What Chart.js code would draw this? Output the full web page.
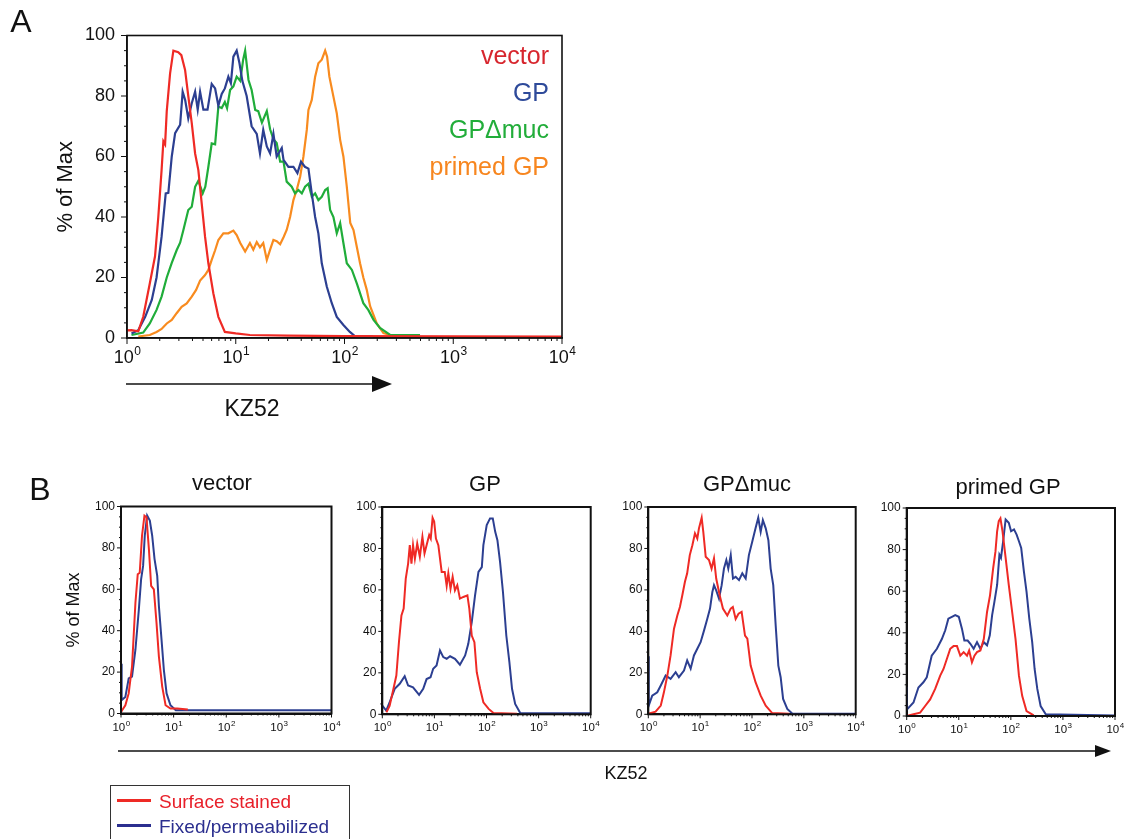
<!DOCTYPE html>
<html>
<head>
<meta charset="utf-8">
<script src="https://cdn.jsdelivr.net/npm/chart.js@4.4.1/dist/chart.umd.min.js"></script>
<style>
  html, body { margin: 0; padding: 0; background: #fff; }
  body { width: 1126px; height: 839px; position: relative; overflow: hidden;
         font-family: "Liberation Sans", Arial, sans-serif; color: #111; }
  canvas { position: absolute; }
  .t { position: absolute; transform: translate(-50%, -50%); white-space: nowrap; line-height: 1; }
  .r { position: absolute; transform: translate(-100%, -50%); white-space: nowrap; line-height: 1; }
  #legB { position: absolute; left: 110px; top: 785px; width: 238px; height: 62px; border: 1.5px solid #333; }
  #legB .sw { position: absolute; left: 6px; width: 34px; height: 3px; }
  #legB .lb { position: absolute; left: 48px; font-size: 19px; line-height: 1; transform: translateY(-50%); white-space: nowrap; }
  svg { position: absolute; left: 0; top: 0; }
</style>
</head>
<body>
<canvas id="chartA"></canvas>
<canvas id="chartVec"></canvas>
<canvas id="chartGp"></canvas>
<canvas id="chartMuc"></canvas>
<canvas id="chartPrimed"></canvas>

<svg width="1126" height="839">
  <line x1="126" y1="384" x2="374" y2="384" stroke="#111" stroke-width="1.6"/>
  <polygon points="372,376 392,384 372,392" fill="#111"/>
  <line x1="118" y1="751" x2="1097" y2="751" stroke="#111" stroke-width="1.6"/>
  <polygon points="1095,745 1111,751 1095,757" fill="#111"/>
</svg>

<div class="t" style="left:21px;top:21px;font-size:32px">A</div>
<div class="t" style="left:40px;top:489px;font-size:32px">B</div>

<div class="r" style="left:549px;top:55px;font-size:25px;color:#d7262e">vector</div>
<div class="r" style="left:549px;top:92px;font-size:25px;color:#2e4a9a">GP</div>
<div class="r" style="left:549px;top:129px;font-size:25px;color:#22ad3a">GPΔmuc</div>
<div class="r" style="left:549px;top:166px;font-size:25px;color:#f7861f">primed GP</div>
<div class="t" style="left:252px;top:408px;font-size:23px">KZ52</div>

<div class="t" style="left:222px;top:483px;font-size:22px">vector</div>
<div class="t" style="left:485px;top:484px;font-size:22px">GP</div>
<div class="t" style="left:747px;top:484px;font-size:22px">GPΔmuc</div>
<div class="t" style="left:1008px;top:487px;font-size:22px">primed GP</div>
<div class="t" style="left:626px;top:773px;font-size:18px">KZ52</div>

<div id="legB">
  <div class="sw" style="top:13px;background:#ee2a25"></div>
  <div class="lb" style="top:15px;color:#e8202a">Surface stained</div>
  <div class="sw" style="top:38px;background:#2b2f8f"></div>
  <div class="lb" style="top:40px;color:#2b2f8f">Fixed/permeabilized</div>
</div>

<script>
// ---- Panel A: four histograms (x = KZ52 intensity, y = % of Max)
const aVectorX = [1.0, 1.1, 1.27, 1.41, 1.62, 1.81, 1.94, 2.08, 2.16, 2.24, 2.32, 2.49, 2.67, 2.96, 3.16, 3.42, 3.66, 3.94, 4.23, 4.53, 4.86, 5.22, 5.6, 6.22, 6.92, 7.94, 10, 13.5, 30, 100, 10000];
const aVectorY = [2.5, 2.6, 2.2, 7, 18, 27, 40, 55.5, 65, 64, 75, 87.5, 95, 94.5, 93.5, 88.6, 80, 71, 61, 55.5, 44.6, 33.5, 24.7, 14.8, 7, 2, 1.5, 1, 0.8, 0.6, 0.5];

const aGpX = [1.1, 1.27, 1.47, 1.69, 1.87, 2.08, 2.27, 2.4, 2.58, 2.77, 3.08, 3.25, 3.43, 3.66, 3.94, 4.23, 4.47, 4.7, 5.04, 5.5, 6.01, 6.46, 6.92, 7.43, 7.94, 8.55, 9.02, 9.51, 10.2, 10.8, 11.5, 12.6, 14.0, 15.6, 16.7, 17.9, 19.3, 20.7, 22.2, 23.8, 26.5, 27.5, 30.5, 33.9, 36.9, 39.8, 43.2, 46.6, 50, 53.7, 57.5, 61.8, 68.7, 76.4, 84.9, 97.7, 112, 126, 182];
const aGpY = [1.5, 2.6, 7, 12.6, 20, 33.5, 47.8, 48, 60, 67.7, 70.5, 81.4, 78.6, 72.6, 77.6, 81.4, 75.5, 81.4, 75.5, 75.5, 84, 82.5, 76.8, 80.7, 82.5, 86.4, 84.2, 93, 95, 91, 85, 80, 70, 67.5, 61, 68.8, 63.3, 61, 67.5, 60, 62.8, 58.9, 56.6, 56.6, 54.5, 58.3, 56.6, 56, 47.8, 40, 34.6, 24.7, 17, 11.5, 7, 4.3, 2, 0.5, 0.5];

const aMucX = [1.1, 1.41, 1.62, 1.87, 2.08, 2.32, 2.58, 2.86, 3.08, 3.3, 3.66, 3.94, 4.23, 4.53, 4.97, 5.25, 5.6, 6.01, 6.46, 6.92, 7.43, 7.94, 8.32, 8.87, 9.51, 10.2, 11.0, 11.7, 12.2, 13.1, 14.0, 15.1, 16.1, 17.4, 19.3, 20.7, 22.2, 23.8, 25.6, 27.5, 29.4, 32.7, 35.1, 37.7, 40.5, 43.4, 46.6, 50, 53.7, 57.5, 61.8, 66.4, 70, 73.8, 79.1, 84.9, 91.2, 97.7, 105, 117, 130, 149, 166, 185, 212, 263, 495];
const aMucY = [1, 1.8, 4.8, 9.3, 13.7, 20, 24.8, 29, 31.5, 35.7, 42.3, 43.4, 50, 52, 47.8, 50, 56.6, 64.3, 64, 76.5, 76, 78, 76, 82, 83.2, 86.4, 85, 92, 95, 85.3, 82, 75.4, 75, 71.2, 75, 69, 65.7, 64.5, 58.3, 58.3, 51.7, 50, 47.8, 48.9, 47.8, 50, 51, 46.7, 47.8, 45.6, 46.7, 48.9, 49.5, 42.3, 40, 34.6, 38, 31.4, 24.7, 22.5, 18, 11.5, 9.2, 6, 3.3, 1, 1];

const aPrimedX = [1.27, 1.62, 1.87, 2.08, 2.32, 2.58, 2.86, 3.18, 3.54, 3.94, 4.32, 4.7, 5.22, 5.6, 6.01, 6.46, 6.92, 7.69, 8.55, 9.51, 10.2, 11.0, 12.2, 13.5, 14.5, 15.6, 16.7, 17.9, 19.3, 20.7, 22.2, 23.8, 25.6, 27.5, 29.4, 31.6, 33.9, 36.4, 39.1, 41.9, 45, 46.6, 50, 53.7, 57.5, 61.8, 66.4, 69.2, 72.6, 79.1, 84.9, 91.2, 97.7, 105, 113, 121, 130, 139, 149, 160, 172, 198, 228, 263, 282];
const aPrimedY = [0.5, 1, 2, 3, 4.8, 6, 8.2, 10.3, 11.4, 13.7, 15.9, 19, 20.8, 22.5, 25.8, 29, 32.4, 34.6, 34.6, 35.5, 34, 31.4, 28.6, 31.4, 29.2, 31.7, 30, 31.4, 25.8, 29.2, 32.4, 32, 31, 33.3, 35.7, 40, 45.6, 49, 53.3, 60, 68.8, 75.4, 78.7, 86.4, 90.8, 92, 95, 93, 86.4, 79.8, 74.3, 65.5, 60, 50, 38, 35.7, 30, 24.7, 20, 16, 10.5, 4.8, 1.6, 1, 0.8];

// ---- Panel B: surface stained (red) vs fixed/permeabilized (blue)
const bVecRedX = [1.02, 1.05, 1.21, 1.40, 1.62, 1.88, 2.08, 2.27, 2.51, 2.79, 3.05, 3.39, 3.74, 4.21, 4.73, 5.25, 6.07, 7.03, 8.71, 11.7, 18.6];
const bVecRedY = [1, 1.6, 4, 9.7, 22.7, 53.5, 67.3, 68, 86, 95.6, 94.8, 79.4, 61.6, 60, 43.8, 27.5, 13, 4, 2.4, 2.4, 1.9];
const bVecBlueX = [1.0, 1.03, 1.21, 1.40, 1.62, 1.88, 2.18, 2.41, 2.63, 2.83, 3.14, 3.53, 3.91, 4.34, 4.88, 5.25, 5.89, 6.53, 7.35, 8.71, 11.0, 10000];
const bVecBlueY = [24, 6.5, 8, 17, 17.8, 30.8, 50, 64.8, 71.3, 86, 95.6, 93.2, 86, 74.6, 66.5, 51.9, 35.7, 21, 9.7, 4, 1.6, 1.6];

const bGpRedX = [1.2, 1.38, 1.61, 1.86, 2.09, 2.33, 2.57, 2.82, 3.13, 3.37, 3.63, 3.89, 4.22, 4.68, 5.25, 5.89, 6.46, 7.08, 7.94, 8.51, 9.23, 9.89, 10.7, 11.9, 13.8, 15.8, 17.2, 18.5, 20.4, 22.4, 24.8, 27.5, 30.9, 36.0, 43.0, 46.8, 52.1, 58.6, 65.0, 75.5, 87.1, 110, 136, 385];
const bGpRedY = [1, 4, 11.5, 18.7, 35, 47.7, 51, 65.5, 72.7, 81.6, 72.7, 81.6, 75, 82.4, 76, 85.6, 77.6, 81.6, 86.5, 84.8, 94.8, 93, 84.8, 81.6, 68.7, 68.7, 62, 68, 60.6, 66.3, 59.8, 62.3, 55.8, 56.6, 57.4, 51, 38, 34.8, 20.3, 12.3, 5.8, 2.6, 0.6, 0.3];
const bGpBlueX = [1.0, 1.19, 1.38, 1.73, 2.16, 2.69, 3.13, 3.89, 5.09, 6.10, 7.08, 8.43, 9.48, 11.0, 12.8, 14.8, 17.2, 20.0, 24.8, 30.9, 38.9, 44.7, 52.1, 60.3, 70.1, 81.3, 87.1, 101, 117, 132, 147, 162, 182, 207, 240, 275, 309, 355, 447, 10000];
const bGpBlueY = [4.2, 1.8, 5.8, 12.3, 14.7, 18.4, 13.9, 13, 9.4, 12.3, 17, 17.9, 22, 23.5, 30.8, 27.6, 26.8, 28, 26.8, 23.9, 28.4, 34, 44.5, 57.4, 68.7, 71, 81.6, 91.3, 94.5, 94.5, 88, 84, 73.5, 59, 38, 25.2, 12.3, 5, 0.5, 0.5];

const bMucRedX = [1.0, 1.38, 1.74, 2.0, 2.33, 2.69, 3.13, 3.63, 4.07, 4.53, 5.09, 5.62, 6.31, 7.08, 7.94, 8.81, 9.48, 10.7, 11.5, 12.8, 14.8, 16.6, 18.5, 20.4, 23.8, 27.5, 33.4, 38.9, 42.7, 48.4, 55.0, 63.1, 73.3, 81.3, 94.2, 117, 147, 184, 245, 525];
const bMucRedY = [0.3, 1.3, 4.2, 10.6, 18.7, 28.4, 41.3, 47.7, 51.8, 57.4, 63.9, 68, 76.8, 81.6, 87.3, 84.8, 89.7, 94.8, 88, 76, 74.4, 70.3, 75.2, 65.5, 57.4, 51, 47.7, 51, 51.8, 46, 48.5, 49.4, 38, 36.5, 23.5, 15.5, 9, 4.2, 0.6, 0.3];
const bMucBlueX = [1.0, 1.02, 1.19, 1.49, 1.74, 2.16, 2.69, 3.37, 3.89, 4.88, 5.62, 6.56, 7.59, 8.81, 10.2, 11.9, 13.7, 15.5, 17.2, 18.5, 20.4, 23.1, 26.0, 28.8, 32.0, 34.9, 38.9, 43.0, 48.4, 56.2, 65.0, 75.5, 87.1, 101, 117, 132, 147, 162, 184, 207, 229, 257, 286, 322, 357, 398, 479, 603, 10000];
const bMucBlueY = [28, 4.2, 9, 10.6, 13.9, 18.7, 17.1, 20.3, 17.9, 21.1, 26, 22, 28.4, 31.6, 34.8, 40.5, 46, 51, 59, 62.3, 59.8, 55.8, 62.3, 70.3, 74.4, 70.3, 76.8, 65.5, 66.3, 64.7, 68, 65.5, 76.8, 83.2, 89.7, 94.8, 88, 93.7, 89.7, 84, 70.3, 62.3, 43, 23.5, 17.9, 7.4, 2.6, 0.3, 0.3];

const bPrimedRedX = [1.0, 1.35, 1.81, 2.26, 2.82, 3.52, 4.40, 5.09, 5.92, 6.85, 7.94, 9.23, 10.7, 12.4, 14.4, 15.8, 17.9, 20.0, 22.4, 26.0, 30.2, 34.9, 39.8, 45.7, 50.6, 54.5, 58.6, 63.1, 69.2, 79.4, 91.2, 106, 123, 143, 165, 200, 275];
const bPrimedRedY = [0, 0.8, 1.6, 4.8, 8, 13, 19.4, 22.6, 27.5, 32.3, 33.6, 33.6, 29, 30.7, 29, 31.5, 25.8, 29, 30.7, 31.5, 37, 50, 58, 71, 79, 88.8, 93.7, 95, 88.8, 76, 63, 50, 37, 19.4, 9.7, 2.4, 0.3];
const bPrimedBlueX = [1.0, 1.02, 1.35, 1.68, 2.09, 2.43, 3.02, 3.80, 4.73, 5.50, 6.31, 7.38, 8.55, 10, 11.5, 12.8, 14.8, 16.7, 19.3, 22.4, 26.0, 30.2, 34.9, 39.4, 43.7, 48.4, 54.5, 60.3, 64.6, 71.1, 79.4, 91.2, 101, 115, 129, 143, 158, 178, 200, 226, 257, 286, 322, 373, 468, 10000];
const bPrimedBlueY = [14, 3.2, 6.5, 13.7, 16.2, 18.6, 29, 32.3, 37, 41.2, 46.8, 47.7, 48.5, 47.7, 42, 36.3, 36.3, 34.7, 32.3, 35.5, 32.3, 35.5, 34, 38.8, 48.5, 55, 63, 77.5, 76, 84, 94.5, 92.9, 88.8, 89.7, 87.2, 84, 80.8, 69.5, 59.8, 46.8, 35.5, 22.6, 13, 4.8, 0.8, 0.3];

// axis ticks: decades 10^0..10^4 with minor ticks, y every 5 (labels every 20)
const decadeExp = ['0', '1', '2', '3', '4'];
const xTickValues = [];
for (let d = 0; d < 4; d++) {
  for (let m = 1; m <= 9; m++) xTickValues.push(m * Math.pow(10, d));
}
xTickValues.push(10000);
const yTickValues = [];
for (let v = 0; v <= 100; v += 5) yTickValues.push(v);

const RED = '#ef2a25', BLUE = '#2c3f91', GREEN = '#20ad3a', ORANGE = '#f88b1f';
const FONT = '"Liberation Sans", Arial, sans-serif';
Chart.defaults.font.family = FONT;

// box outline round the plot area
const frame = {
  id: 'frame',
  afterDatasetsDraw(chart, args, opts) {
    const a = chart.chartArea, ctx = chart.ctx;
    ctx.save();
    ctx.strokeStyle = '#111';
    ctx.lineWidth = opts.width || 1.5;
    ctx.strokeRect(a.left, a.top, a.right - a.left, a.bottom - a.top);
    ctx.restore();
  }
};

// tick marks (long at majors, short at minors) and 10^n labels
const logTicks = {
  id: 'logTicks',
  afterDraw(chart, args, o) {
    const ctx = chart.ctx, xs = chart.scales.x, ys = chart.scales.y;
    const b = chart.chartArea.bottom, l = chart.chartArea.left;
    ctx.save();
    ctx.strokeStyle = '#111';
    ctx.lineWidth = 1;
    xTickValues.forEach((v, i) => {
      const px = xs.getPixelForValue(v);
      const len = i % 9 === 0 ? o.major : o.minor;
      ctx.beginPath(); ctx.moveTo(px, b); ctx.lineTo(px, b + len); ctx.stroke();
    });
    yTickValues.forEach(v => {
      const py = ys.getPixelForValue(v);
      const len = v % 20 === 0 ? o.major : o.minor;
      ctx.beginPath(); ctx.moveTo(l, py); ctx.lineTo(l - len, py); ctx.stroke();
    });
    ctx.fillStyle = '#111';
    ctx.textAlign = 'left';
    ctx.textBaseline = 'alphabetic';
    const small = Math.round(o.fs * 0.66);
    decadeExp.forEach((e, k) => {
      const px = xs.getPixelForValue(Math.pow(10, k));
      ctx.font = o.fs + 'px ' + FONT;
      const w1 = ctx.measureText('10').width;
      ctx.font = small + 'px ' + FONT;
      const w2 = ctx.measureText(e).width;
      const x0 = px - (w1 + w2) / 2;
      const base = b + o.labelY;
      ctx.font = o.fs + 'px ' + FONT;
      ctx.fillText('10', x0, base);
      ctx.font = small + 'px ' + FONT;
      ctx.fillText(e, x0 + w1 + 0.5, base - o.fs * 0.42);
    });
    ctx.restore();
  }
};

function histChart(id, g, sets, o) {
  const cv = document.getElementById(id);
  cv.width = g.W;
  cv.height = g.H;
  cv.style.left = g.L + 'px';
  cv.style.top = g.T + 'px';
  return new Chart(cv, {
    type: 'line',
    data: {
      datasets: sets.map(s => ({
        data: s.x.map((v, i) => ({ x: v, y: s.y[i] })),
        borderColor: s.color,
        borderWidth: o.lw,
        pointRadius: 0,
        tension: 0,
        fill: false
      }))
    },
    options: {
      responsive: false,
      animation: false,
      events: [],
      layout: { padding: { top: g.pt, right: g.pr, left: 0, bottom: 0 } },
      plugins: {
        legend: { display: false },
        tooltip: { enabled: false },
        frame: { width: o.bw },
        logTicks: { major: o.major, minor: o.minor, fs: o.xfs, labelY: o.labelY }
      },
      scales: {
        x: {
          type: 'logarithmic', min: 1, max: 10000,
          afterFit: s => { s.height = g.xh; s.paddingLeft = 0; s.paddingRight = 0; },
          grid: { drawOnChartArea: false, drawTicks: false },
          border: { display: true, color: '#111', width: o.bw },
          ticks: { display: false }
        },
        y: {
          min: 0, max: 100,
          afterBuildTicks: s => { s.ticks = yTickValues.map(v => ({ value: v })); },
          afterFit: s => { s.width = g.yw; s.paddingTop = 0; s.paddingBottom = 0; },
          grid: { drawOnChartArea: false, drawTicks: false },
          border: { display: true, color: '#111', width: o.bw },
          ticks: {
            autoSkip: false, padding: o.ypad, color: '#111', font: { size: o.fs },
            callback: v => v % 20 === 0 ? v : ''
          },
          title: {
            display: !!o.ytitle, text: '% of Max', color: '#111',
            font: { size: o.tfs || 16 }, padding: { top: o.tp || 0, bottom: 0 }
          }
        }
      }
    },
    plugins: [frame, logTicks]
  });
}

// Panel A
histChart('chartA', { L: 40, T: 20, W: 540, H: 354, yw: 87, xh: 36, pt: 15.5, pr: 18 }, [
  { x: aVectorX, y: aVectorY, color: RED },
  { x: aGpX, y: aGpY, color: BLUE },
  { x: aMucX, y: aMucY, color: GREEN },
  { x: aPrimedX, y: aPrimedY, color: ORANGE }
], { lw: 2.2, bw: 1.6, major: 6, minor: 3, fs: 18, xfs: 18, labelY: 25, ypad: 12, ytitle: true, tfs: 22, tp: 13 });

// Panel B
const bOpts = { lw: 2, bw: 2, major: 4, minor: 2, fs: 12, xfs: 11.5, labelY: 17, ypad: 6 };
histChart('chartVec', { L: 55, T: 494, W: 290, H: 248, yw: 66, xh: 28.5, pt: 12.5, pr: 13.5 }, [
  { x: bVecRedX, y: bVecRedY, color: RED },
  { x: bVecBlueX, y: bVecBlueY, color: BLUE }
], Object.assign({}, bOpts, { ytitle: true, tfs: 18, tp: 8 }));
histChart('chartGp', { L: 342, T: 494, W: 262, H: 248, yw: 40.3, xh: 27.7, pt: 13, pr: 13.3 }, [
  { x: bGpRedX, y: bGpRedY, color: RED },
  { x: bGpBlueX, y: bGpBlueY, color: BLUE }
], bOpts);
histChart('chartMuc', { L: 608, T: 494, W: 261, H: 248, yw: 40.3, xh: 27.7, pt: 13, pr: 13.3 }, [
  { x: bMucRedX, y: bMucRedY, color: RED },
  { x: bMucBlueX, y: bMucBlueY, color: BLUE }
], bOpts);
histChart('chartPrimed', { L: 866, T: 494, W: 260, H: 250, yw: 40.7, xh: 28, pt: 14, pr: 11 }, [
  { x: bPrimedRedX, y: bPrimedRedY, color: RED },
  { x: bPrimedBlueX, y: bPrimedBlueY, color: BLUE }
], bOpts);
</script>
</body>
</html>
